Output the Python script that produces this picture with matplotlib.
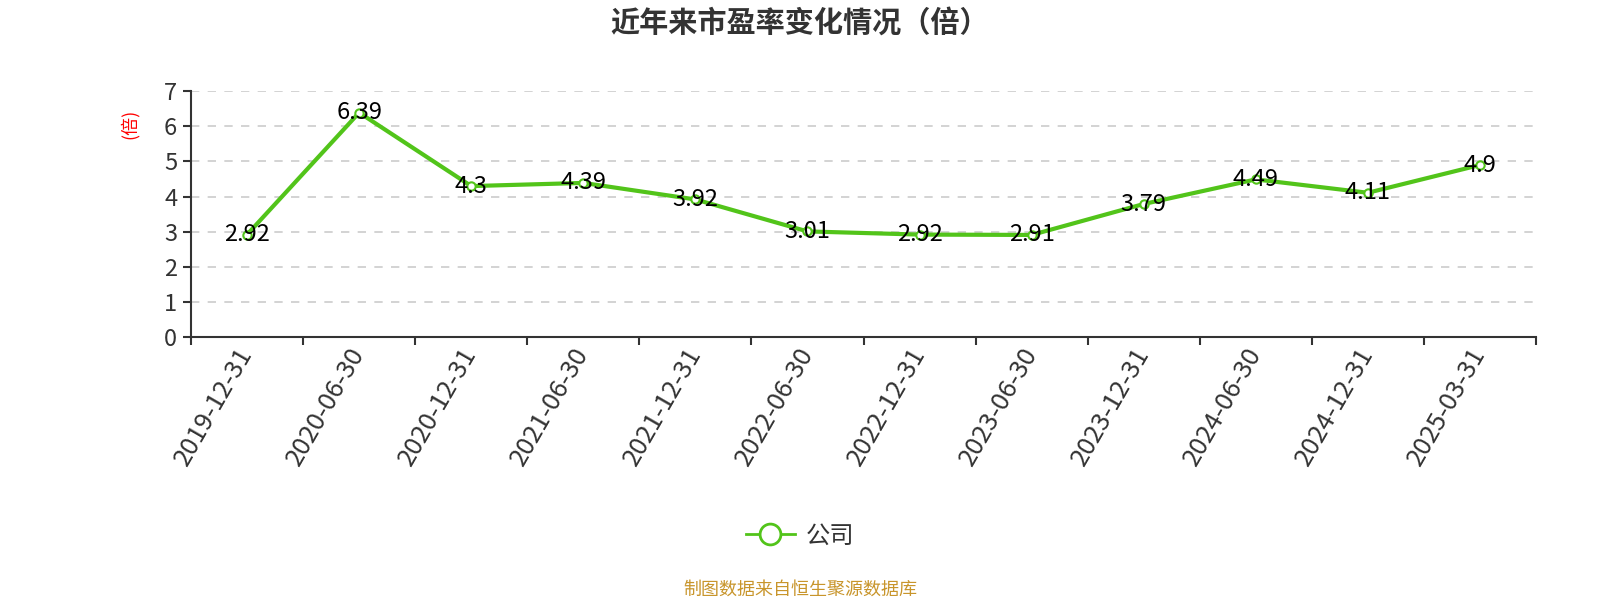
import matplotlib
matplotlib.use("Agg")
import matplotlib.pyplot as plt
from matplotlib.lines import Line2D

plt.rcParams['font.family'] = ['Noto Sans CJK SC', 'DejaVu Sans']

dates = ["2019-12-31", "2020-06-30", "2020-12-31", "2021-06-30", "2021-12-31", "2022-06-30",
         "2022-12-31", "2023-06-30", "2023-12-31", "2024-06-30", "2024-12-31", "2025-03-31"]
pe_values = [2.92, 6.39, 4.3, 4.39, 3.92, 3.01, 2.92, 2.91, 3.79, 4.49, 4.11, 4.9]
value_labels = ["2.92", "6.39", "4.3", "4.39", "3.92", "3.01", "2.92", "2.91", "3.79", "4.49", "4.11", "4.9"]
y_ticks = [0, 1, 2, 3, 4, 5, 6, 7]

green = "#52c41a"
axis_color = "#333333"

fig = plt.figure(figsize=(16, 6), dpi=100)
ax = fig.add_axes([0.1194, 0.438, 0.8406, 0.41])

x = list(range(len(dates)))
ax.plot(x, pe_values, color=green, linewidth=3, marker='o', markersize=6,
        markerfacecolor='white', markeredgecolor=green, markeredgewidth=1.5,
        zorder=3)

for xi, yi, lab in zip(x, pe_values, value_labels):
    ax.text(xi, yi, lab, ha='center', va='center', fontsize=17, color='black', zorder=4)

ax.set_xlim(-0.5, len(dates) - 0.5)
ax.set_ylim(0, 7)
ax.set_yticks(y_ticks)
ax.set_yticklabels([str(t) for t in y_ticks], fontsize=17, color=axis_color)

# category labels at centres, ticks at band boundaries
ax.set_xticks(x)
ax.set_xticklabels(dates, rotation=60, ha='right', va='center', rotation_mode='anchor',
                   fontsize=18.5, color=axis_color)
ax.tick_params(axis='x', which='major', length=0, pad=9)
ax.set_xticks([i - 0.5 for i in range(len(dates) + 1)], minor=True)
ax.tick_params(axis='x', which='minor', length=6, width=1.5, color=axis_color)
ax.tick_params(axis='y', length=6, width=1.5, color=axis_color, pad=4)

ax.grid(axis='y', linestyle=(0, (5, 5)), color='#cccccc', linewidth=1.2)
ax.set_axisbelow(True)
for side in ['top', 'right']:
    ax.spines[side].set_visible(False)
for side in ['left', 'bottom']:
    ax.spines[side].set_color(axis_color)
    ax.spines[side].set_linewidth(1.5)

fig.text(0.081, 0.793, "(倍)", rotation=90, ha='center', va='center',
         fontsize=13, color='red')

fig.text(0.5, 0.963, "近年来市盈率变化情况（倍）", ha='center', va='center',
         fontsize=21, fontweight='bold', color='#333333')

handle = Line2D([], [], color=green, linewidth=2, marker='o', markersize=15,
                markerfacecolor='white', markeredgecolor=green, markeredgewidth=2)
leg = fig.legend([handle], ["公司"], loc='center', bbox_to_anchor=(0.5, 0.107),
                 frameon=False, fontsize=17.5, handlelength=2.0, handletextpad=0.45)
for t in leg.get_texts():
    t.set_color(axis_color)

fig.text(0.5, 0.017, "制图数据来自恒生聚源数据库", ha='center', va='center',
         fontsize=13, color='#c8952b')

fig.savefig("out.png", dpi=100)
